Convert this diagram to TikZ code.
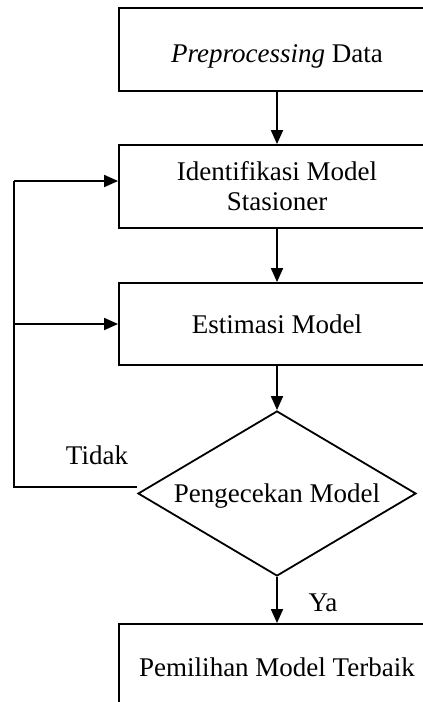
\documentclass[tikz,border=0pt]{standalone}
\usepackage{fontspec}
\setmainfont{Liberation Serif}
\usetikzlibrary{arrows.meta,shapes.geometric}
\begin{document}
\begin{tikzpicture}[x=1pt,y=-1pt,
  line width=1.8pt,
  every node/.style={font=\fontsize{27}{30}\selectfont},
  procbox/.style={draw,rectangle,minimum width=316pt,inner sep=0pt,align=center},
  decide/.style={draw,diamond,minimum width=278pt,minimum height=165pt,inner sep=0pt},
  flow/.style={-{Triangle[length=14pt,width=12pt]}},
  plain/.style={font=\fontsize{27}{30}\selectfont}]
  \useasboundingbox (0,0) rectangle (423,702);
  \clip (0,0) rectangle (423,702);

  % process boxes (their right sides run past the frame)
  \node[procbox,minimum height=83pt] (prep) at (277,49.5) {};
  \node[plain] (preptxt) at (277,56) {\textit{Preprocessing} Data};
  \node[procbox,minimum height=83pt] (ident) at (277,186.5) {Identifikasi Model\\Stasioner};
  \node[procbox,minimum height=82pt] (estim) at (277,324) {Estimasi Model};
  \node[decide] (check) at (277,493.5) {};
  \node[plain] (checktxt) at (277,496) {Pengecekan Model};
  \node[procbox,minimum height=83pt] (best) at (277,665.5) {};
  \node[plain] (besttxt) at (277,667) {Pemilihan Model Terbaik};

  % branch labels
  \node[plain] (no) at (97,455) {Tidak};
  \node[plain] (yes) at (323,603) {Ya};

  % feedback loop corners
  \coordinate (loopbot) at (14,487);
  \coordinate (looptop) at (14,181);
  \coordinate (loopmid) at (14,324);

  % main flow
  \draw[flow] (prep) -- (ident);
  \draw[flow] (ident) -- (estim);
  \draw[flow] (estim) -- (check.north);
  \draw[flow] (check.south) -- (best);

  % "Tidak" feedback
  \draw (check.west |- loopbot) -- (loopbot) -- (looptop);
  \draw[flow] (looptop) -- (ident.west |- looptop);
  \draw[flow] (loopmid) -- (estim.west);
\end{tikzpicture}
\end{document}
